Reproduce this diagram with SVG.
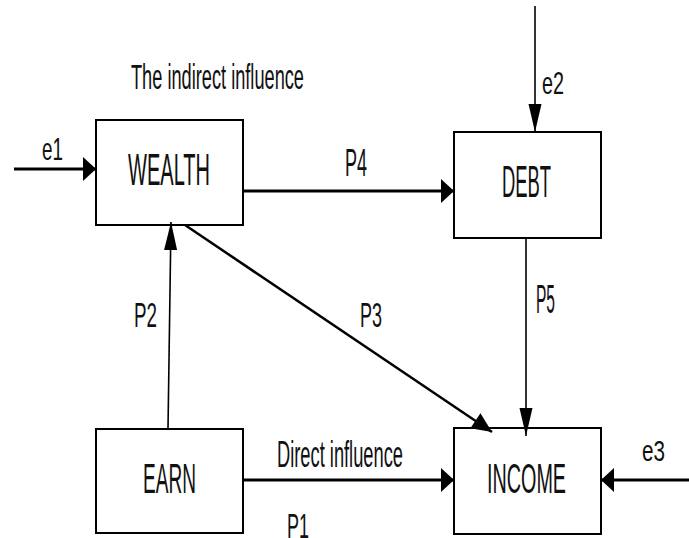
<svg xmlns="http://www.w3.org/2000/svg" width="689" height="538" viewBox="0 0 689 538">
<style>
.box{fill:#fff;stroke:#000;stroke-width:2}
.t{font-family:"Liberation Sans",Arial,sans-serif;fill:#111}
.h{stroke:#000;stroke-width:3;fill:none}
.v{stroke:#000;stroke-width:1.6;fill:none}
.d{stroke:#000;stroke-width:2.5;fill:none}
</style>
<defs>
<marker id="ah" markerUnits="userSpaceOnUse" orient="auto" refX="13" refY="0" markerWidth="30" markerHeight="30" overflow="visible"><path d="M0,-12 L13,0 L0,12 z" fill="#000"/></marker>
<marker id="av" markerUnits="userSpaceOnUse" orient="auto" refX="28" refY="0" markerWidth="30" markerHeight="30" overflow="visible"><path d="M0,-6.5 L28,0 L0,6.5 z" fill="#000"/></marker>
<marker id="ad" markerUnits="userSpaceOnUse" orient="auto" refX="20" refY="0" markerWidth="30" markerHeight="30" overflow="visible"><path d="M0,-9 L20,0 L0,9 z" fill="#000"/></marker>
</defs>
<rect width="689" height="538" fill="#fff"/>
<text class="t" x="131" y="89" font-size="35" textLength="173" lengthAdjust="spacingAndGlyphs">The indirect influence</text>
<g id="wealth"><rect class="box" x="96" y="120" width="147" height="105"/><text class="t" x="128" y="185" font-size="44" textLength="82" lengthAdjust="spacingAndGlyphs">WEALTH</text></g>
<g id="debt"><rect class="box" x="454" y="132" width="147" height="106"/><text class="t" x="502" y="197" font-size="44" textLength="49" lengthAdjust="spacingAndGlyphs">DEBT</text></g>
<g id="earn"><rect class="box" x="96" y="429" width="147" height="104"/><text class="t" x="143" y="493" font-size="42" textLength="53" lengthAdjust="spacingAndGlyphs">EARN</text></g>
<g id="income"><rect class="box" x="454" y="428" width="147" height="106"/><text class="t" x="487" y="493" font-size="42" textLength="79" lengthAdjust="spacingAndGlyphs">INCOME</text></g>
<g id="connectors">
<path class="h" d="M14,169 L96,169" marker-end="url(#ah)"/>
<path class="h" d="M243,191 L454,191" marker-end="url(#ah)"/>
<path class="h" d="M243,480 L454,480" marker-end="url(#ah)"/>
<path class="h" d="M689,480 L601,480" marker-end="url(#ah)"/>
<path class="v" d="M535,6 L535,132" marker-end="url(#av)"/>
<path class="v" d="M526,238 L526,436" marker-end="url(#av)"/>
<path class="v" d="M168,429 L171,222" marker-end="url(#av)"/>
<path class="d" d="M185,225 L492,432" marker-end="url(#ad)"/>
</g>
<g id="labels">
<text class="t" x="42" y="160" font-size="32" textLength="21" lengthAdjust="spacingAndGlyphs">e1</text>
<text class="t" x="542" y="94" font-size="32" textLength="22" lengthAdjust="spacingAndGlyphs">e2</text>
<text class="t" x="642" y="461" font-size="30" textLength="23" lengthAdjust="spacingAndGlyphs">e3</text>
<text class="t" x="345" y="176" font-size="38" textLength="22" lengthAdjust="spacingAndGlyphs">P4</text>
<text class="t" x="536" y="313" font-size="40" textLength="19" lengthAdjust="spacingAndGlyphs">P5</text>
<text class="t" x="360" y="327" font-size="35" textLength="22" lengthAdjust="spacingAndGlyphs">P3</text>
<text class="t" x="134" y="327" font-size="35" textLength="23" lengthAdjust="spacingAndGlyphs">P2</text>
<text class="t" x="287" y="538" font-size="35" textLength="22" lengthAdjust="spacingAndGlyphs">P1</text>
<text class="t" x="277" y="467" font-size="36" textLength="126" lengthAdjust="spacingAndGlyphs">Direct influence</text>
</g>
</svg>
